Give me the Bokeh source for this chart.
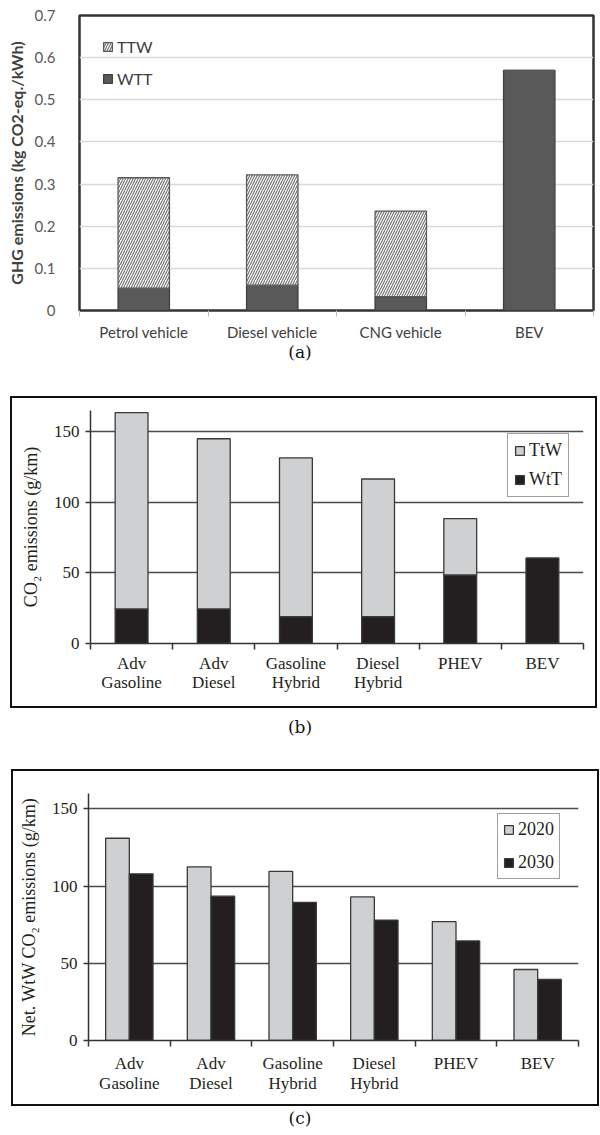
from bokeh.plotting import figure
from bokeh.models import (Range1d, FixedTicker, ColumnDataSource, Legend, LegendItem, Div, Spacer)
from bokeh.layouts import column, row
from bokeh.transform import dodge
from bokeh.embed import file_html
from bokeh.resources import INLINE

# ---------------- data ----------------
# Panel (a)
a_categories = ["Petrol vehicle", "Diesel vehicle", "CNG vehicle", "BEV"]
a_wtt = [0.053, 0.060, 0.033, 0.570]
a_ttw = [0.262, 0.262, 0.203, 0.0]
a_yticks = [0, 0.1, 0.2, 0.3, 0.4, 0.5, 0.6, 0.7]

# Panel (b)
b_categories = ["Adv\nGasoline", "Adv\nDiesel", "Gasoline\nHybrid", "Diesel\nHybrid", "PHEV", "BEV"]
b_wtt = [24.5, 24.5, 19.0, 19.0, 48.5, 60.5]
b_ttw = [139.0, 120.5, 112.5, 97.5, 40.0, 0.0]
b_yticks = [0, 50, 100, 150]

# Panel (c)
c_categories = ["Adv\nGasoline", "Adv\nDiesel", "Gasoline\nHybrid", "Diesel\nHybrid", "PHEV", "BEV"]
c_2020 = [131.0, 112.5, 109.5, 93.0, 77.0, 46.0]
c_2030 = [108.0, 93.5, 89.5, 78.0, 64.5, 39.5]
c_yticks = [0, 50, 100, 150]

SANS = "Lato"
SERIF = "Liberation Serif"
CAP_FONT = "DejaVu Serif"
DARK = "#231f20"


def caption(text, height, line_height):
    return Div(text=text, width=600, height=height,
               styles={"text-align": "center", "font-family": CAP_FONT, "font-size": "17px",
                       "line-height": line_height, "color": "#111111", "margin": "0",
                       "padding": "0"})


# ---------------- panel (a) ----------------
a_x = [i + 0.5 for i in range(len(a_categories))]
src_a = ColumnDataSource(dict(x=a_x, wtt=a_wtt, ttw=a_ttw))

pa = figure(width=600, height=343, x_range=Range1d(0, len(a_categories)), y_range=Range1d(0, 0.7),
            output_backend="svg", toolbar_location=None,
            min_border_left=79, min_border_right=7, min_border_top=15, min_border_bottom=32)
pa.outline_line_color = "#333333"
pa.outline_line_width = 2.5
pa.xgrid.visible = False
pa.ygrid.ticker = FixedTicker(ticks=a_yticks)
pa.ygrid.grid_line_color = "#d9d9d9"
pa.ygrid.grid_line_width = 1.5

ya = pa.yaxis[0]
ya.ticker = FixedTicker(ticks=a_yticks)
ya.major_label_overrides = {0: "0"}
ya.axis_line_color = None
ya.major_tick_line_color = None
ya.major_tick_out = 0
ya.minor_tick_line_color = None
ya.major_label_standoff = 24
ya.major_label_text_font = SANS
ya.major_label_text_font_size = "15px"
ya.major_label_text_color = "#595959"
ya.axis_label = "GHG emissions (kg CO2-eq./kWh)"
ya.axis_label_text_font = SANS
ya.axis_label_text_font_style = "bold"
ya.axis_label_text_font_size = "16px"
ya.axis_label_text_color = "#404040"
ya.axis_label_standoff = 6

xa = pa.xaxis[0]
xa.ticker = FixedTicker(ticks=a_x, minor_ticks=list(range(len(a_categories) + 1)))
xa.major_label_overrides = dict(zip(a_x, a_categories))
xa.axis_line_color = None
xa.major_tick_line_color = None
xa.major_tick_out = 0
xa.minor_tick_line_color = "#bfbfbf"
xa.minor_tick_out = 6
xa.minor_tick_in = 0
xa.major_label_standoff = 6
xa.major_label_text_font = SANS
xa.major_label_text_font_size = "15px"
xa.major_label_text_color = "#404040"

ra = pa.vbar_stack(["wtt", "ttw"], x="x", width=0.4, source=src_a,
                   fill_color=["#595959", "white"], line_color=["#404040", "#5a5a5a"],
                   line_width=1.3, hatch_pattern=[None, "/"], hatch_color="#6e6e6e",
                   hatch_scale=5, hatch_weight=1.1)

leg_a = Legend(items=[LegendItem(label="TTW", renderers=[ra[1]]),
                      LegendItem(label="WTT", renderers=[ra[0]])],
               location=(23, 222), padding=0, margin=0, spacing=13,
               glyph_width=11, glyph_height=11, label_height=11, label_standoff=4,
               border_line_color=None, background_fill_alpha=0,
               label_text_font=SANS, label_text_font_size="16px", label_text_color="#404040")
pa.add_layout(leg_a)


def serif_axes(p, n, yticks, ylabel, standoff, line_height):
    p.outline_line_color = None
    p.xgrid.visible = False
    p.ygrid.ticker = FixedTicker(ticks=yticks)
    p.ygrid.grid_line_color = "#4a4a4a"
    p.ygrid.grid_line_width = 1.5
    y = p.yaxis[0]
    y.ticker = FixedTicker(ticks=yticks)
    y.axis_line_color = "#333333"
    y.axis_line_width = 1.5
    y.major_tick_line_color = "#333333"
    y.major_tick_line_width = 1.5
    y.major_tick_out = 5
    y.major_tick_in = 0
    y.minor_tick_line_color = None
    y.major_label_standoff = 6
    y.major_label_text_font = SERIF
    y.major_label_text_font_size = "17px"
    y.major_label_text_color = DARK
    y.axis_label = ylabel
    y.axis_label_text_font = SERIF
    y.axis_label_text_font_style = "normal"
    y.axis_label_text_font_size = "18px"
    y.axis_label_text_color = DARK
    y.axis_label_standoff = 10
    xs = [i + 0.5 for i in range(n)]
    x = p.xaxis[0]
    x.ticker = FixedTicker(ticks=xs, minor_ticks=list(range(n + 1)))
    x.axis_line_color = "#333333"
    x.axis_line_width = 1.5
    x.major_tick_line_color = None
    x.major_tick_out = 0
    x.minor_tick_line_color = "#333333"
    x.minor_tick_line_width = 1.5
    x.minor_tick_out = 6
    x.minor_tick_in = 0
    x.major_label_standoff = standoff
    x.major_label_text_font = SERIF
    x.major_label_text_font_size = "17px"
    x.major_label_text_color = DARK
    x.major_label_text_line_height = line_height
    return x


def legend_serif(items, loc, spacing, padding):
    return Legend(items=items, location=loc, padding=padding, margin=0, spacing=spacing,
                  glyph_width=11, glyph_height=11, label_height=11, label_standoff=4,
                  border_line_color="#444444", border_line_width=1.5,
                  background_fill_color="white", background_fill_alpha=1,
                  label_text_font=SERIF, label_text_font_size="18px", label_text_color=DARK)


BOX = {"border": "2px solid #111111", "box-sizing": "content-box"}

# ---------------- panel (b) ----------------
b_x = [i + 0.5 for i in range(len(b_categories))]
src_b = ColumnDataSource(dict(x=b_x, wtt=b_wtt, ttw=b_ttw))
pb = figure(width=583, height=308, x_range=Range1d(0, len(b_categories)), y_range=Range1d(0, 165),
            output_backend="svg", toolbar_location=None,
            min_border_left=78, min_border_right=12, min_border_top=12, min_border_bottom=63)
xb = serif_axes(pb, len(b_categories), b_yticks, "CO\u2082 emissions (g/km)", 4, 1.03)
xb.major_label_overrides = dict(zip(b_x, b_categories))
rb = pb.vbar_stack(["wtt", "ttw"], x="x", width=0.4, source=src_b,
                   fill_color=[DARK, "#cfd0d2"], line_color="#3a3a3a", line_width=1.3)
pb.add_layout(legend_serif([LegendItem(label="TtW", renderers=[rb[1]]),
                            LegendItem(label="WtT", renderers=[rb[0]])], (417, 146), 8, 6))

# ---------------- panel (c) ----------------
c_x = [i + 0.5 for i in range(len(c_categories))]
src_c = ColumnDataSource(dict(x=c_x, y2020=c_2020, y2030=c_2030))
pc = figure(width=584, height=333, x_range=Range1d(0, len(c_categories)), y_range=Range1d(0, 160),
            output_backend="svg", toolbar_location=None,
            min_border_left=75, min_border_right=19, min_border_top=22, min_border_bottom=64)
xc = serif_axes(pc, len(c_categories), c_yticks, "Net. WtW CO\u2082 emissions (g/km)", 7, 1.1)
xc.major_label_overrides = dict(zip(c_x, c_categories))
r20 = pc.vbar(x=dodge("x", -0.145), top="y2020", width=0.29, source=src_c,
              fill_color="#cfd0d2", line_color="#3a3a3a", line_width=1.3)
r30 = pc.vbar(x=dodge("x", 0.145), top="y2030", width=0.29, source=src_c,
              fill_color=DARK, line_color="#3a3a3a", line_width=1.3)
pc.add_layout(legend_serif([LegendItem(label="2020", renderers=[r20]),
                            LegendItem(label="2030", renderers=[r30])], (409, 161), 12, 5))

layout = column(
    pa,
    caption("(a)", 27, "18px"),
    Spacer(width=600, height=26),
    row(Spacer(width=10, height=312), column(pb, styles=BOX)),
    caption("(b)", 40, "38px"),
    Spacer(width=600, height=21),
    row(Spacer(width=11, height=337), column(pc, styles=BOX)),
    caption("(c)", 29, "24px"),
    spacing=0,
)
open("out.html", "w").write(file_html(layout, INLINE))
